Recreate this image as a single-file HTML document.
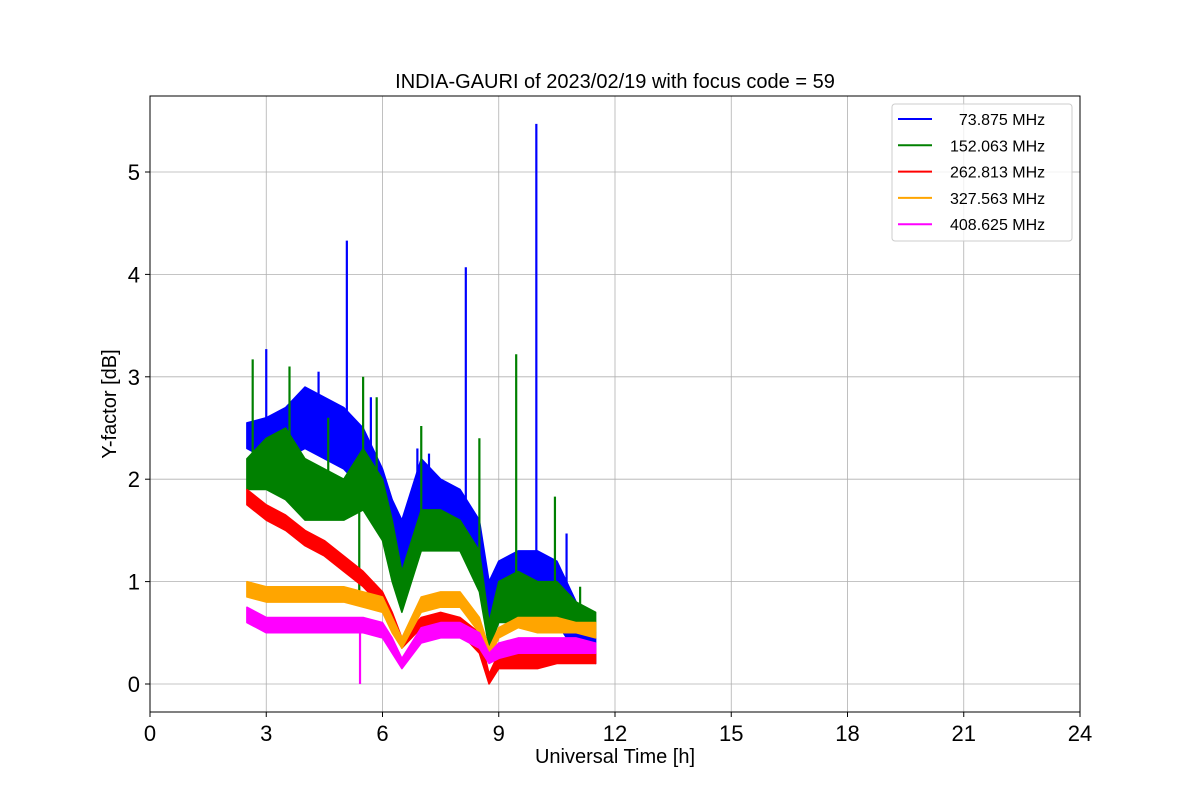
<!DOCTYPE html>
<html><head><meta charset="utf-8"><style>
body{margin:0;background:#fff;}
svg{display:block;font-family:"Liberation Sans","DejaVu Sans",sans-serif;}
</style></head><body>
<svg id="chart" width="1200" height="800" viewBox="0 0 1200 800">
<rect width="1200" height="800" fill="#fff"/>
<g id="grid"></g><g id="series"></g><g id="axes"></g>
<text x="615" y="88" font-size="20" text-anchor="middle">INDIA-GAURI of 2023/02/19 with focus code = 59</text>
<text x="615" y="763" font-size="20" text-anchor="middle">Universal Time [h]</text>
<text transform="translate(116,404) rotate(-90)" font-size="20" text-anchor="middle">Y-factor [dB]</text>
<g>
<rect x="892" y="104" width="180" height="137" fill="#fff" fill-opacity="0.8" stroke="#ccc" rx="3"/>
<g id="legend"></g></g>
</svg>
<script>
const times=[2.5,3,3.5,4,4.5,5,5.5,6,6.25,6.5,7,7.5,8,8.5,8.75,9,9.5,10,10.5,11,11.5];
const blueLo=[2.3,2.2,2.2,2.3,2.2,2.1,1.9,1.5,1.3,1.0,1.4,1.4,1.3,1.0,0.5,0.6,0.7,0.8,0.6,0.3,0.2];
const blueHi=[2.55,2.6,2.7,2.9,2.8,2.7,2.5,2.1,1.8,1.6,2.2,2.0,1.9,1.6,1.0,1.2,1.3,1.3,1.2,0.8,0.5];
const greenLo=[1.9,1.9,1.8,1.6,1.6,1.6,1.7,1.4,1.0,0.7,1.3,1.3,1.3,0.9,0.35,0.6,0.6,0.6,0.6,0.55,0.5];
const greenHi=[2.2,2.4,2.5,2.2,2.1,2.0,2.3,2.0,1.6,1.1,1.7,1.7,1.6,1.3,0.6,1.0,1.1,1.0,1.0,0.8,0.7];
const redLo=[1.75,1.6,1.5,1.35,1.25,1.1,0.95,0.75,0.55,0.35,0.55,0.55,0.5,0.3,0.0,0.15,0.15,0.15,0.2,0.2,0.2];
const redHi=[1.9,1.75,1.65,1.5,1.4,1.25,1.1,0.9,0.7,0.45,0.65,0.7,0.65,0.5,0.1,0.3,0.35,0.3,0.35,0.35,0.35];
const orangeLo=[0.85,0.8,0.8,0.8,0.8,0.8,0.75,0.7,0.5,0.35,0.7,0.75,0.75,0.5,0.25,0.45,0.55,0.5,0.5,0.5,0.45];
const orangeHi=[1.0,0.95,0.95,0.95,0.95,0.95,0.9,0.85,0.65,0.45,0.85,0.9,0.9,0.65,0.35,0.55,0.65,0.65,0.65,0.6,0.6];
const magLo=[0.6,0.5,0.5,0.5,0.5,0.5,0.5,0.45,0.3,0.15,0.4,0.45,0.45,0.35,0.2,0.25,0.3,0.3,0.3,0.3,0.3];
const magHi=[0.75,0.65,0.65,0.65,0.65,0.65,0.65,0.6,0.45,0.25,0.55,0.6,0.6,0.5,0.3,0.4,0.45,0.45,0.45,0.45,0.4];
const blueSpikeT=[3.0,4.35,5.08,5.7,6.9,7.2,8.15,9.97,10.75];
const blueSpikeV=[3.27,3.05,4.33,2.8,2.3,2.25,4.07,5.47,1.47];
const greenSpikeT=[2.65,3.6,4.6,5.5,5.4,5.85,7.0,8.5,9.45,10.45,11.1];
const greenSpikeV=[3.17,3.1,2.6,3.0,0.9,2.8,2.52,2.4,3.22,1.83,0.95];
const magSpikeT=[5.42];
const magSpikeV=[0.0];
const xTicks=[0,3,6,9,12,15,18,21,24];
const yTicks=[0,1,2,3,4,5];
const legendLabels=["  73.875 MHz","152.063 MHz","262.813 MHz","327.563 MHz","408.625 MHz"];
const colors=["blue","green","red","orange","magenta"];

const NS="http://www.w3.org/2000/svg";
const X0=150,X1=1080,Y0=96,Y1=712;
const xs=t=>X0+(t/24)*(X1-X0);
const ys=v=>684-v*102.4;
function mk(tag,attrs,parent){const e=document.createElementNS(NS,tag);for(const k in attrs)e.setAttribute(k,attrs[k]);parent.appendChild(e);return e;}
const grid=document.getElementById('grid'),axes=document.getElementById('axes'),ser=document.getElementById('series'),leg=document.getElementById('legend');
xTicks.forEach(t=>{
  const g=mk('line',{x1:xs(t),x2:xs(t),y1:Y0,y2:Y1,stroke:'#b0b0b0','stroke-width':0.8},grid);
  
  
  mk('line',{x1:xs(t),x2:xs(t),y1:Y1,y2:Y1+5,stroke:'#000'},axes);
  const l=mk('text',{x:xs(t),y:Y1+29,'font-size':22,'text-anchor':'middle'},axes);l.textContent=t;
  
  
});
yTicks.forEach(v=>{
  const g=mk('line',{x1:X0,x2:X1,y1:ys(v),y2:ys(v),stroke:'#b0b0b0','stroke-width':0.8},grid);
  
  
  mk('line',{x1:X0-5,x2:X0,y1:ys(v),y2:ys(v),stroke:'#000'},axes);
  const l=mk('text',{x:X0-10,y:ys(v)+8,'font-size':22,'text-anchor':'end'},axes);l.textContent=v;
  
  
});
const frame=mk('rect',{x:X0,y:Y0,width:X1-X0,height:Y1-Y0,fill:'none',stroke:'#000','stroke-width':1},axes);


function band(lo,hi,col,name){
  let pts=times.map((t,i)=>xs(t)+','+ys(hi[i]));
  for(let i=times.length-1;i>=0;i--)pts.push(xs(times[i])+','+ys(lo[i]));
  const p=mk('polygon',{points:pts.join(' '),fill:col,stroke:col,'stroke-width':1.5,'stroke-linejoin':'round'},ser);
  
  
}
function spikes(T,V,lo,hi,col,name){
  T.forEach((t,i)=>{
    let j=0;while(j<times.length-2&&times[j+1]<t)j++;
    const f=(t-times[j])/(times[j+1]-times[j]);
    const base=(lo[j]+(lo[j+1]-lo[j])*f+hi[j]+(hi[j+1]-hi[j])*f)/2;
    const s=mk('line',{x1:xs(t),x2:xs(t),y1:ys(base),y2:ys(V[i]),stroke:col,'stroke-width':2.2},ser);
    
    
  });
}
band(blueLo,blueHi,'blue','series-73-band');spikes(blueSpikeT,blueSpikeV,blueLo,blueHi,'blue','series-73-spike');
band(greenLo,greenHi,'green','series-152-band');spikes(greenSpikeT,greenSpikeV,greenLo,greenHi,'green','series-152-spike');
band(redLo,redHi,'red','series-262-band');
band(orangeLo,orangeHi,'orange','series-327-band');
band(magLo,magHi,'magenta','series-408-band');spikes(magSpikeT,magSpikeV,magLo,magHi,'magenta','series-408-spike');
legendLabels.forEach((s,i)=>{
  const y=119+i*26.3;
  const ln=mk('line',{x1:898,x2:932,y1:y,y2:y,stroke:colors[i],'stroke-width':2},leg);
  
  
  const t=mk('text',{x:950,y:y+6,'font-size':16},leg);t.textContent=s;
  t.style.whiteSpace='pre';
  
  
});
</script>
</body></html>
